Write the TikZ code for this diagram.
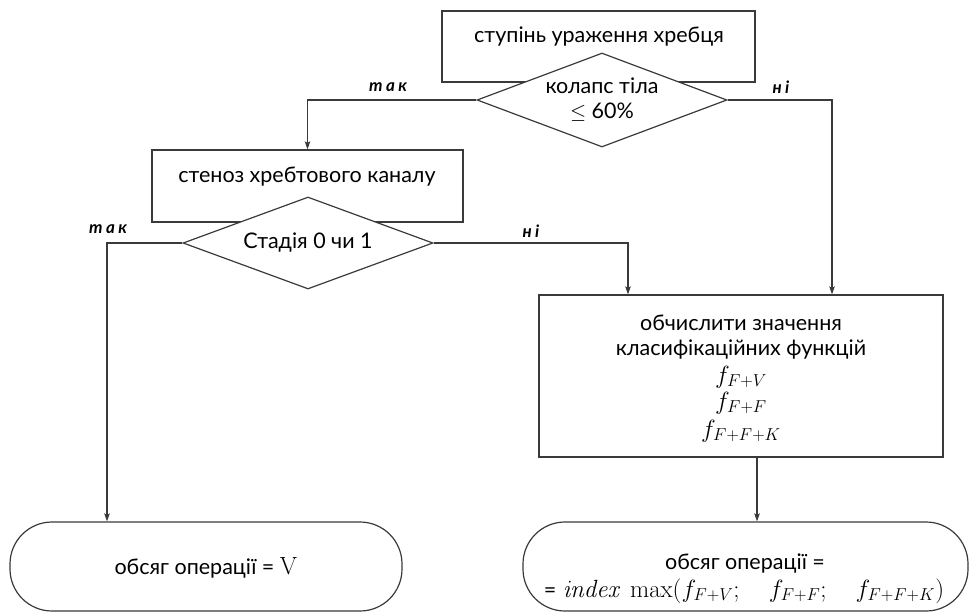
\documentclass[tikz,border=0pt]{standalone}
\usepackage[no-math]{fontspec}
\setmainfont{Lato}
\newfontfamily\lblfont[LetterSpace=20]{Lato}
\usetikzlibrary{arrows.meta,shapes.geometric}
\definecolor{lc}{HTML}{3A3A3A}
\begin{document}
\begin{tikzpicture}[x=1pt,y=-1pt,
  every node/.style={inner sep=0pt, font=\fontsize{21.5}{25}\selectfont},
  shp/.style={draw=lc, fill=white, line width=1.2pt},
  procbox/.style={shp, rectangle},
  decide/.style={shp, diamond, aspect=2.66},
  termbox/.style={shp, rectangle, rounded corners=42pt},
  conn/.style={draw=lc, line width=1.1pt, -{Stealth[length=8pt,width=5.5pt,inset=1.5pt]}},
  yn/.style={font=\lblfont\bfseries\itshape\fontsize{17}{20}\selectfont},
  mth/.style={font=\fontsize{25}{28}\selectfont}]
\useasboundingbox (0,0) rectangle (976,613);

% shapes
\node[procbox, minimum width=313pt, minimum height=71pt] (box1) at (598.5,46.5) {};
\node (t1) at (599,37) {ступінь ураження хребця};
\node[decide, minimum width=250pt, minimum height=94pt, align=center] (dia1) at (602,100)
  {колапс тіла\\[0pt]$\leq$ 60\%};

\node[procbox, minimum width=311pt, minimum height=72pt] (box2) at (307.5,186) {};
\node (t2) at (307,177) {стеноз хребтового каналу};
\node[decide, minimum width=250pt, minimum height=92pt] (dia2) at (308,243) {Стадія 0 чи 1};

\node[procbox, minimum width=404pt, minimum height=162pt] (box3) at (741,376) {};
\node[anchor=base] (c1) at (741,330) {обчислити значення};
\node[anchor=base] (c2) at (741,355) {класифікаційних функцій};
\node[anchor=base, mth] (c3) at (741,383) {$f_{F+V}$};
\node[anchor=base, mth] (c4) at (741,409) {$f_{F+F}$};
\node[anchor=base, mth] (c5) at (741,437) {$f_{F+F+K}$};

\node[termbox, minimum width=392pt, minimum height=89pt] (term1) at (206,566.5) {};
\node[anchor=base] (e1) at (206,574) {обсяг операції = {\fontsize{25}{28}\selectfont$\mathrm{V}$}};

\node[termbox, minimum width=445pt, minimum height=89pt] (term2) at (745.5,566.5) {};
\node[anchor=base] (e2) at (745,569) {обсяг операції =};
\node[anchor=base, mth] (e3) at (744,597) {{\fontsize{21.5}{25}\selectfont=} $\mathit{index}\,\max(f_{F+V};\quad f_{F+F};\quad f_{F+F+K})$};

% connectors
\draw[conn] (dia1.west) -| (box2.north);
\draw[conn] (dia1.east) -| ([xshift=91pt]box3.north);
\draw[conn] (dia2.west) -| ([xshift=-99pt]term1.north);
\draw[conn] (dia2.east) -| ([xshift=-113pt]box3.north);
\draw[conn] ([xshift=16pt]box3.south) -- ([xshift=16pt]box3.south |- term2.north);

% labels
\node[yn] (y1) at (388,87) {так};
\node[yn] (n1) at (781,87) {ні};
\node[yn] (y2) at (108,229) {так};
\node[yn] (n2) at (531,231) {ні};
\end{tikzpicture}
\end{document}
